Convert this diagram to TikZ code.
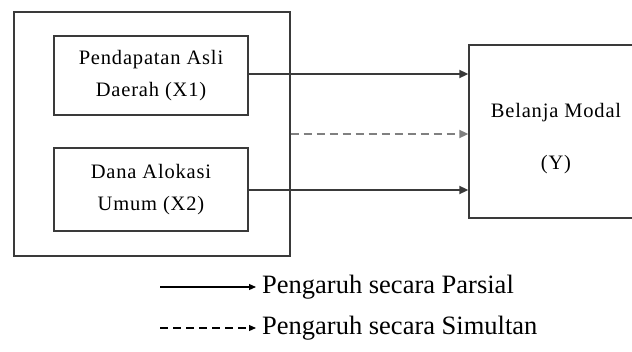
\documentclass[tikz,border=0pt]{standalone}
\usepackage{fontspec}
\setmainfont{Liberation Serif}
\newfontfamily\boxfont[LetterSpace=4]{Liberation Serif}
\usetikzlibrary{arrows.meta}
\definecolor{ln}{HTML}{3A3A3A}
\tikzset{
  x=1pt,y=-1pt,
  box/.style={draw=ln,line width=1.3pt,inner sep=0pt,align=center,
    font=\boxfont\fontsize{20.5}{32}\selectfont},
  conn/.style={draw=ln,line width=1.7pt,-{Triangle[length=9pt,width=8pt]}},
  dconn/.style={conn,draw=gray,dash pattern=on 8pt off 5pt},
  lsolid/.style={draw=black,line width=1.1pt,-{Triangle[length=7pt,width=6pt]}},
  ldash/.style={lsolid,dash pattern=on 8pt off 5pt},
  ltext/.style={anchor=west,inner sep=0pt,font=\fontsize{26.5}{30}\selectfont}
}
\begin{document}
\begin{tikzpicture}
\useasboundingbox (0,0) rectangle (632,351);
\clip (0,0) rectangle (632,351);
\node[box,minimum width=276pt,minimum height=244pt] (outer) at (152,134) {};
\node[box,minimum width=194pt,minimum height=79pt] (x1) at (151,75.5) {Pendapatan Asli\\Daerah (X1)};
\node[box,minimum width=194pt,minimum height=83pt] (x2) at (151,189.5) {Dana Alokasi\\Umum (X2)};
\node[box,minimum width=175pt,minimum height=173pt] (y) at (556.5,131.5) {};
\node[align=center,inner sep=0pt,font=\boxfont\fontsize{20.5}{52}\selectfont] (ytext) at (556,139) {Belanja Modal\\(Y)};
\draw[conn] ([yshift=1.5pt]x1.east) -- ([yshift=1.5pt]x1.east -| y.west);
\draw[dconn] (outer.east) -- (outer.east -| y.west);
\draw[conn] ([yshift=-0.5pt]x2.east) -- ([yshift=-0.5pt]x2.east -| y.west);
\coordinate (a1) at (160,287);
\coordinate (b1) at (256,287);
\coordinate (a2) at (160,328);
\coordinate (b2) at (256,328);
\draw[lsolid] (a1) -- (b1);
\draw[ldash] (a2) -- (b2);
\node[ltext] (t1) at (262,287) {Pengaruh secara Parsial};
\node[ltext] (t2) at (262,328) {Pengaruh secara Simultan};
\end{tikzpicture}
\end{document}
